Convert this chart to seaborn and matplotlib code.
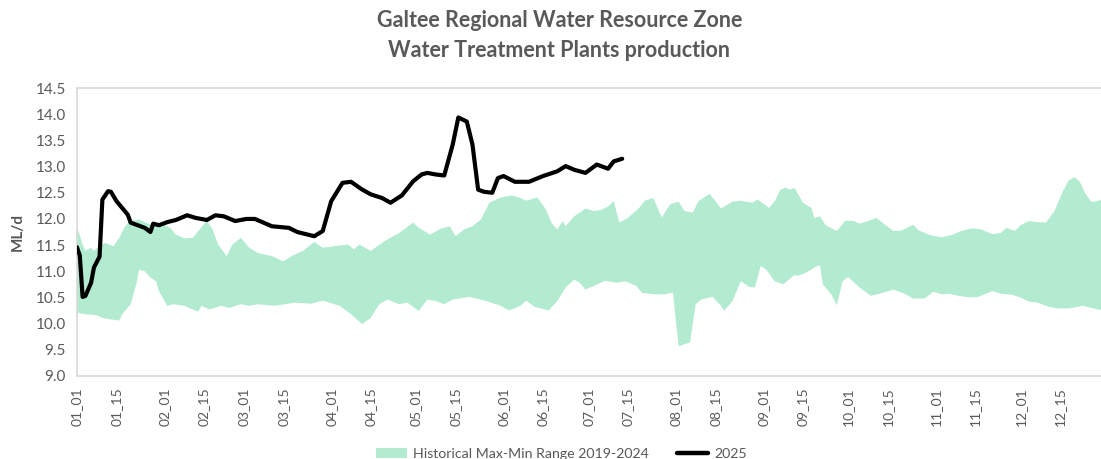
import matplotlib
matplotlib.use("Agg")
import matplotlib.pyplot as plt
from matplotlib.patches import Patch
from matplotlib.lines import Line2D
import pandas as pd
import seaborn as sns

# 2025 daily production (day of year, ML/d)
days_2025 = [1, 2, 3, 4, 6, 7, 9, 10, 12, 13, 15, 17, 19, 20, 22, 25, 27, 28, 30,
             33, 36, 40, 43, 47, 50, 53, 57, 61, 64, 70, 76, 79, 85, 88, 91, 95,
             98, 102, 105, 109, 112, 116, 120, 123, 125, 128, 131, 134, 136, 139,
             141, 143, 145, 148, 150, 152, 156, 161, 166, 171, 174, 177, 181, 185,
             189, 191, 194]
vals_2025 = [11.46, 11.30, 10.51, 10.53, 10.78, 11.07, 11.28, 12.37, 12.53, 12.52,
             12.34, 12.21, 12.08, 11.93, 11.89, 11.83, 11.75, 11.91, 11.88, 11.94,
             11.98, 12.07, 12.02, 11.98, 12.07, 12.05, 11.96, 12.00, 12.00, 11.86,
             11.83, 11.75, 11.67, 11.77, 12.34, 12.69, 12.71, 12.56, 12.47, 12.40,
             12.31, 12.45, 12.72, 12.85, 12.88, 12.85, 12.83, 13.42, 13.94, 13.86,
             13.42, 12.56, 12.52, 12.50, 12.78, 12.82, 12.71, 12.71, 12.82, 12.91,
             13.01, 12.94, 12.88, 13.04, 12.96, 13.10, 13.15]

# historical maximum 2019-2024
max_days = [1, 3, 4, 6, 7, 9, 11, 14, 16, 18, 20, 23, 27, 30, 34, 36, 39, 42, 44,
            47, 49, 51, 54, 56, 59, 62, 65, 70, 74, 77, 81, 85, 88, 92, 97, 99,
            101, 105, 110, 115, 120, 122, 126, 130, 133, 135, 138, 141, 144, 147,
            151, 155, 158, 160, 164, 167, 169, 171, 173, 174, 177, 181, 184, 187,
            189, 191, 193, 196, 200, 202, 205, 208, 211, 214, 216, 219, 221, 225,
            229, 233, 236, 240, 242, 246, 248, 250, 252, 253, 255, 258, 261, 262,
            264, 266, 270, 273, 276, 278, 281, 284, 287, 290, 293, 297, 299, 303,
            307, 311, 314, 318, 321, 325, 328, 330, 333, 335, 338, 341, 344, 347,
            350, 352, 354, 356, 358, 360, 361, 364, 365]
max_vals = [11.86, 11.51, 11.39, 11.45, 11.39, 11.48, 11.54, 11.48, 11.64, 11.86,
            11.96, 11.99, 11.89, 11.93, 11.83, 11.70, 11.63, 11.64, 11.77, 11.97,
            11.80, 11.51, 11.29, 11.51, 11.64, 11.45, 11.35, 11.29, 11.19, 11.29,
            11.39, 11.56, 11.45, 11.48, 11.51, 11.42, 11.51, 11.39, 11.58, 11.73,
            11.93, 11.83, 11.70, 11.82, 11.86, 11.67, 11.80, 11.86, 11.99, 12.31,
            12.41, 12.45, 12.40, 12.35, 12.41, 12.18, 11.92, 11.80, 11.96, 11.86,
            12.05, 12.20, 12.15, 12.18, 12.24, 12.34, 11.93, 12.02, 12.21, 12.35,
            12.40, 12.03, 12.28, 12.33, 12.15, 12.12, 12.34, 12.48, 12.20, 12.33,
            12.35, 12.31, 12.37, 12.21, 12.34, 12.56, 12.60, 12.56, 12.59, 12.31,
            12.21, 12.02, 12.05, 11.88, 11.77, 11.97, 11.96, 11.91, 11.96, 12.02,
            11.89, 11.77, 11.78, 11.89, 11.78, 11.69, 11.65, 11.70, 11.77, 11.82,
            11.80, 11.71, 11.73, 11.83, 11.77, 11.88, 11.96, 11.94, 11.93, 12.15,
            12.53, 12.73, 12.80, 12.71, 12.48, 12.33, 12.33, 12.37, 12.37]

# historical minimum 2019-2024
min_days = [1, 4, 8, 10, 13, 16, 17, 20, 22, 23, 25, 27, 29, 30, 33, 35, 39, 42,
            44, 45, 48, 52, 55, 59, 62, 65, 71, 78, 84, 88, 94, 98, 102, 105, 108,
            111, 115, 118, 122, 125, 128, 131, 134, 140, 146, 151, 154, 158, 160,
            163, 168, 171, 174, 177, 179, 181, 184, 188, 192, 195, 199, 201, 205,
            209, 212, 213, 214, 218, 220, 222, 226, 229, 230, 233, 236, 239, 241,
            243, 245, 248, 251, 255, 256, 259, 262, 264, 265, 268, 270, 272, 274,
            278, 282, 285, 290, 294, 297, 301, 303, 304, 307, 310, 313, 317, 320,
            325, 328, 332, 335, 338, 341, 345, 348, 352, 357, 360, 364, 365]
min_vals = [10.21, 10.18, 10.16, 10.11, 10.08, 10.06, 10.18, 10.37, 10.75, 11.03,
            11.00, 10.88, 10.81, 10.62, 10.34, 10.37, 10.34, 10.27, 10.23, 10.34,
            10.27, 10.34, 10.30, 10.37, 10.34, 10.37, 10.34, 10.40, 10.38, 10.44,
            10.34, 10.18, 9.99, 10.11, 10.37, 10.46, 10.37, 10.40, 10.24, 10.46,
            10.43, 10.37, 10.46, 10.51, 10.43, 10.34, 10.25, 10.34, 10.44, 10.32,
            10.25, 10.43, 10.69, 10.84, 10.78, 10.65, 10.72, 10.82, 10.78, 10.81,
            10.72, 10.59, 10.56, 10.56, 10.59, 10.05, 9.57, 9.64, 10.37, 10.46,
            10.51, 10.34, 10.24, 10.43, 10.81, 10.70, 10.69, 11.10, 11.03, 10.81,
            10.75, 10.93, 10.91, 10.97, 11.07, 11.12, 10.75, 10.56, 10.35, 10.81,
            10.89, 10.69, 10.53, 10.57, 10.65, 10.57, 10.48, 10.48, 10.56, 10.61,
            10.56, 10.57, 10.53, 10.50, 10.51, 10.62, 10.57, 10.55, 10.50, 10.42,
            10.40, 10.32, 10.29, 10.29, 10.34, 10.30, 10.25, 10.25]

tick_days = [1, 15, 32, 46, 60, 74, 91, 105, 121, 135, 152, 166, 182, 196,
             213, 227, 244, 258, 274, 288, 305, 319, 335, 349]
tick_labels = ["01_01", "01_15", "02_01", "02_15", "03_01", "03_15", "04_01",
               "04_15", "05_01", "05_15", "06_01", "06_15", "07_01", "07_15",
               "08_01", "08_15", "09_01", "09_15", "10_01", "10_15", "11_01",
               "11_15", "12_01", "12_15"]
y_ticks = [9.0, 9.5, 10.0, 10.5, 11.0, 11.5, 12.0, 12.5, 13.0, 13.5, 14.0, 14.5]

sns.set_theme(style="white")
plt.rcParams['font.family'] = ['Lato', 'DejaVu Sans']

grey = '#595959'
band_col = '#B3EBD1'

fig = plt.figure(figsize=(11.01, 4.59), dpi=100)
ax = fig.add_axes([0.0699, 0.181, 0.934, 0.627])

# min-max band as a closed polygon
band_x = max_days + min_days[::-1]
band_y = max_vals + min_vals[::-1]
ax.fill(band_x, band_y, color=band_col, lw=0, zorder=1)

df25 = pd.DataFrame({'day': days_2025, 'ML/d': vals_2025})
sns.lineplot(data=df25, x='day', y='ML/d', ax=ax, color='black', lw=3,
             zorder=3, legend=False)

ax.set_xlim(1, 365)
ax.set_ylim(9.0, 14.5)
ax.set_yticks(y_ticks)
ax.set_yticklabels([f"{v:.1f}" for v in y_ticks], color=grey, fontsize=11)
ax.set_xticks(tick_days)
ax.set_xticklabels(tick_labels, rotation=90, color=grey, fontsize=10)
ax.tick_params(axis='both', length=0, pad=8)
ax.set_xlabel('')
ax.set_ylabel('ML/d', color=grey, fontsize=11, fontweight='bold', labelpad=8)

for s in ax.spines.values():
    s.set_color('#D9D9D9')
    s.set_linewidth(1.2)

fig.text(0.508, 0.956, 'Galtee Regional Water Resource Zone', ha='center',
         va='center', color=grey, fontsize=15.5, fontweight='bold')
fig.text(0.508, 0.891, 'Water Treatment Plants production', ha='center',
         va='center', color=grey, fontsize=15.5, fontweight='bold')

handles = [Patch(facecolor=band_col, edgecolor='none',
                 label='Historical Max-Min Range 2019-2024'),
           Line2D([0], [0], color='black', lw=3.2, label='2025')]
fig.legend(handles=handles, loc='lower center', ncol=2, frameon=False,
           bbox_to_anchor=(0.51, -0.03), fontsize=10.2, labelcolor=grey,
           handlelength=2.2, handletextpad=0.4, columnspacing=2.0)

fig.savefig('out.png', dpi=100)
